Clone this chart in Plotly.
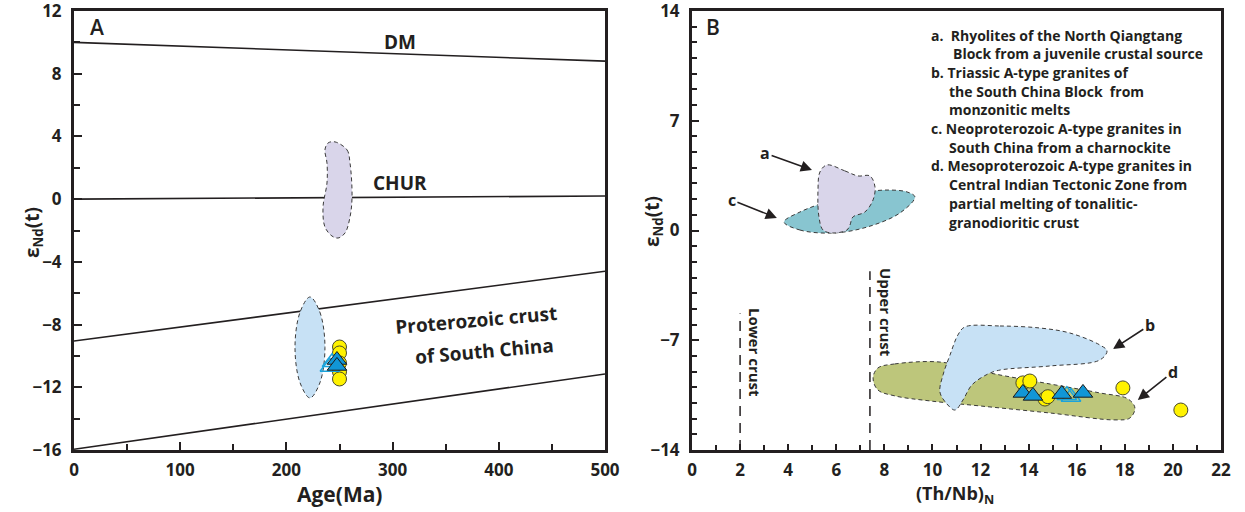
import plotly.graph_objects as go

# ---------------- Data ----------------
# Panel A reference lines (Age Ma, eNd)
dm_x = [0, 500]; dm_y = [10.0, 8.8]
chur_x = [0, 500]; chur_y = [0.0, 0.2]
crust_top_x = [0, 500]; crust_top_y = [-9.05, -4.6]
crust_bot_x = [0, 500]; crust_bot_y = [-15.95, -11.15]

# Panel A fields (outline vertices)
a_lav_x = [245.8, 257.1, 259.9, 261.8, 259.9, 255.2, 248.6, 242.9, 236.3, 234.5, 238.2, 238.2, 236.3, 239.2, 245.8]
a_lav_y = [3.65, 3.14, 2.31, 0.14, -1.14, -2.16, -2.48, -2.35, -1.78, -0.50, 1.03, 2.31, 3.14, 3.58, 3.65]
a_blue_x = [222.2, 231.5, 236.3, 231.5, 222.2, 212.9, 208.1, 212.9, 222.2]
a_blue_y = [-6.24, -7.2, -9.46, -11.72, -12.68, -11.72, -9.46, -7.2, -6.24]

# Panel A samples
a_circ_x = [250, 250, 250, 250, 250]
a_circ_y = [-9.43, -9.81, -10.45, -11.02, -11.47]
a_tri_x = [247.6, 247.6]
a_tri_y = [-10.26, -10.64]
a_otri_x = [243, 241]
a_otri_y = [-10.4, -10.7]

# Panel B fields
b_a_x = [5.61, 6.36, 6.90, 7.40, 7.61, 7.53, 7.19, 6.69, 6.57, 6.44, 5.86, 5.45, 5.28, 5.24, 5.32, 5.61]
b_a_y = [4.18, 3.80, 3.48, 3.48, 2.78, 1.95, 1.18, 0.86, 0.35, 0.03, -0.16, 0.03, 0.86, 2.58, 3.73, 4.18]
b_c_x = [3.83, 4.49, 5.86, 7.28, 8.65, 9.27, 8.94, 8.11, 7.28, 5.86, 4.49, 3.83]
b_c_y = [0.54, 0.03, -0.16, 0.22, 1.12, 2.14, 2.46, 2.58, 2.46, 1.95, 1.18, 0.54]
b_b_x = [11.35, 12.81, 14.47, 15.72, 16.96, 17.26, 16.96, 14.89, 12.81, 12.31, 11.64, 11.27, 10.94, 10.60, 10.31, 10.44, 10.73, 11.06, 11.35]
b_b_y = [-6.15, -6.09, -6.22, -6.54, -7.30, -7.68, -8.26, -8.64, -8.90, -9.15, -9.85, -10.81, -11.45, -11.06, -10.30, -9.21, -7.94, -6.66, -6.15]
b_d_x = [7.73, 8.44, 10.31, 12.39, 14.89, 16.96, 18.13, 18.42, 18.21, 17.59, 14.89, 11.98, 9.90, 8.44, 7.73, 7.53, 7.73]
b_d_y = [-8.77, -8.51, -8.39, -9.09, -9.79, -10.36, -10.74, -11.32, -11.96, -12.08, -11.64, -11.19, -10.87, -10.55, -10.17, -9.41, -8.77]

# Panel B samples
b_circ_x = [13.76, 14.05, 14.68, 14.80, 17.92, 20.33]
b_circ_y = [-9.72, -9.60, -10.75, -10.60, -10.04, -11.45]
b_tri_x = [13.76, 14.18, 15.38, 16.26]
b_tri_y = [-10.36, -10.55, -10.43, -10.36]
b_otri_x = [15.59, 15.76]
b_otri_y = [-10.50, -10.62]

# Crust reference lines in B
lower_x = [2, 2]; lower_y = [-14, -5.3]
upper_x = [7.4, 7.4]; upper_y = [-14, -2.6]

# Field labels with arrow targets (label position, arrow head)
field_labels = ["a", "c", "b", "d"]
label_x = [3.04, 1.66, 19.04, 20.0]
label_y = [4.94, 1.95, -6.03, -9.02]
head_x = [4.99, 3.53, 17.51, 18.54]
head_y = [3.86, 0.80, -7.56, -10.81]

legend_lines = [
    "a.  Rhyolites of the North Qiangtang",
    "Block from a juvenile crustal source",
    "b. Triassic A-type granites of",
    "the South China Block  from",
    "monzonitic melts",
    "c. Neoproterozoic A-type granites in",
    "South China from a charnockite",
    "d. Mesoproterozoic A-type granites in",
    "Central Indian Tectonic Zone from",
    "partial melting of tonalitic-",
    "granodioritic crust",
]
legend_indent = [0, 1, 0, 1, 1, 0, 1, 0, 1, 1, 1]

# ---------------- Styles ----------------
W, H = 1245, 512
INK = "#231f20"
FONT = "Open Sans"
LAV = "#d9d5ea"; LBLUE = "#c7e1f5"; TEAL = "#88c5d0"; OLIVE = "#bdc67b"
YEL = "#fff200"; TRI = "#1196d6"; OTRI = "#1aa3dc"


def px(xp, yp):
    return xp / W, 1 - yp / H


fig = go.Figure()

def line(x, y, xa, ya, width=1.6, dash=None):
    fig.add_trace(go.Scatter(x=x, y=y, mode="lines", xaxis=xa, yaxis=ya,
                             line=dict(color=INK, width=width, dash=dash),
                             hoverinfo="skip", showlegend=False))

def field(x, y, color, xa, ya):
    fig.add_trace(go.Scatter(x=x, y=y, mode="lines", fill="toself", fillcolor=color,
                             xaxis=xa, yaxis=ya,
                             line=dict(color="#3a3a3a", width=1, dash="4px,3px", shape="spline", smoothing=1.0),
                             hoverinfo="skip", showlegend=False))

def pts(x, y, xa, ya, kind):
    if kind == "circ":
        m = dict(symbol="circle", size=14, color=YEL, line=dict(color="#4a4a2a", width=1))
    elif kind == "tri":
        m = dict(symbol="triangle-up", size=17, color=TRI, line=dict(color="#1a1a1a", width=1))
    else:
        m = dict(symbol="triangle-up-open", size=17, color=OTRI, line=dict(color=OTRI, width=1.5))
    fig.add_trace(go.Scatter(x=x, y=y, mode="markers", xaxis=xa, yaxis=ya, marker=m,
                             hoverinfo="skip", showlegend=False))

# Panel A
line(dm_x, dm_y, "x", "y")
line(chur_x, chur_y, "x", "y")
line(crust_top_x, crust_top_y, "x", "y")
line(crust_bot_x, crust_bot_y, "x", "y")
field(a_lav_x, a_lav_y, LAV, "x", "y")
field(a_blue_x, a_blue_y, LBLUE, "x", "y")
pts(a_circ_x, a_circ_y, "x", "y", "circ")
pts(a_otri_x, a_otri_y, "x", "y", "otri")
pts(a_tri_x, a_tri_y, "x", "y", "tri")

# Panel B
line(lower_x, lower_y, "x2", "y2", width=1.5, dash="10px,7px")
line(upper_x, upper_y, "x2", "y2", width=1.5, dash="10px,7px")
field(b_d_x, b_d_y, OLIVE, "x2", "y2")
field(b_b_x, b_b_y, LBLUE, "x2", "y2")
field(b_c_x, b_c_y, TEAL, "x2", "y2")
field(b_a_x, b_a_y, LAV, "x2", "y2")
pts(b_circ_x, b_circ_y, "x2", "y2", "circ")
pts(b_otri_x, b_otri_y, "x2", "y2", "otri")
pts(b_tri_x, b_tri_y, "x2", "y2", "tri")

axis_common = dict(showgrid=False, zeroline=False, showline=True, linecolor=INK, linewidth=3,
                   mirror=True, ticks="inside", tickcolor=INK, tickwidth=2,
                   tickfont=dict(family=FONT, size=17, color=INK, weight="bold"),
                   fixedrange=True, automargin=False, ticklabeloverflow="allow")

yb, yt = (H - 450) / H, (H - 11) / H
fig.update_layout(
    width=W, height=H, autosize=False, margin=dict(l=0, r=0, t=0, b=0, pad=0),
    paper_bgcolor="white", plot_bgcolor="white", showlegend=False,
    xaxis=dict(domain=[74 / W, 605 / W], range=[0, 500], dtick=100, ticklen=8,
               minor=dict(dtick=50, ticklen=6, ticks="inside", tickcolor=INK, tickwidth=2),
               anchor="y", ticklabelstandoff=3, **axis_common),
    yaxis=dict(domain=[yb, yt], range=[-16, 12], dtick=4, ticklen=8,
               minor=dict(dtick=2, ticklen=6, ticks="inside", tickcolor=INK, tickwidth=2),
               anchor="x", ticklabelstandoff=6, **axis_common),
    xaxis2=dict(domain=[692 / W, 1221 / W], range=[0, 22], dtick=2, ticklen=6,
                minor=dict(dtick=1, ticklen=5, ticks="inside", tickcolor=INK, tickwidth=2),
                anchor="y2", ticklabelstandoff=3, **axis_common),
    yaxis2=dict(domain=[yb, yt], range=[-14, 14], dtick=7, ticklen=7,
                minor=dict(dtick=1, ticklen=5, ticks="inside", tickcolor=INK, tickwidth=2),
                anchor="x2", ticklabelstandoff=6, **axis_common),
)

ann = []
def txt(x, y, s, size=14, xref="paper", yref="paper", angle=0, xanchor="center", yanchor="middle", weight="bold"):
    ann.append(dict(x=x, y=y, xref=xref, yref=yref, text=s, showarrow=False, textangle=angle,
                    xanchor=xanchor, yanchor=yanchor,
                    font=dict(family=FONT, size=size, color=INK, weight=weight)))

# Panel letters
x, y = px(97, 27); txt(x, y, "A", size=21, weight=600)
x, y = px(713, 27); txt(x, y, "B", size=21, weight=600)
# Axis titles
x, y = px(339, 494); txt(x, y, "Age(Ma)", size=21)
x, y = px(955, 494); txt(x, y, "(Th/Nb)<sub>N</sub>", size=18)
x, y = px(33, 233); txt(x, y, "ε<sub>Nd</sub>(t)", size=19, angle=-90)
x, y = px(653, 222); txt(x, y, "ε<sub>Nd</sub>(t)", size=19, angle=-90)
# Panel A labels
txt(307, 10.0, "DM", size=19, xref="x", yref="y")
txt(307, 1.0, "CHUR", size=19, xref="x", yref="y")
x, y = px(476, 320); txt(x, y, "Proterozoic crust", size=19, angle=-5)
x, y = px(484, 351); txt(x, y, "of South China", size=19, angle=-5)
# Panel B crust labels
x, y = px(755, 352); txt(x, y, "Lower crust", size=15, angle=90)
x, y = px(886, 313); txt(x, y, "Upper crust", size=15, angle=90)
# field letters with arrows
for s, lx, ly, hx, hy in zip(field_labels, label_x, label_y, head_x, head_y):
    ann.append(dict(x=hx, y=hy, ax=lx, ay=ly, xref="x2", yref="y2", axref="x2", ayref="y2",
                    text=s, showarrow=True, arrowhead=2, arrowsize=1.4, arrowwidth=1.6,
                    arrowcolor=INK, standoff=0,
                    font=dict(family=FONT, size=16, color=INK, weight="bold")))
# legend block
for i, (s, ind) in enumerate(zip(legend_lines, legend_indent)):
    yp = 35 + i * 18.7
    xp = 929 if ind == 0 else (951 if i == 1 else 947)
    x, y = px(xp, yp)
    txt(x, y, s, size=14, xanchor="left")

fig.update_layout(annotations=ann)
fig.write_html("out.html", config={"responsive": False},
               post_script="document.body.style.margin='0px';document.body.style.padding='0px';")
